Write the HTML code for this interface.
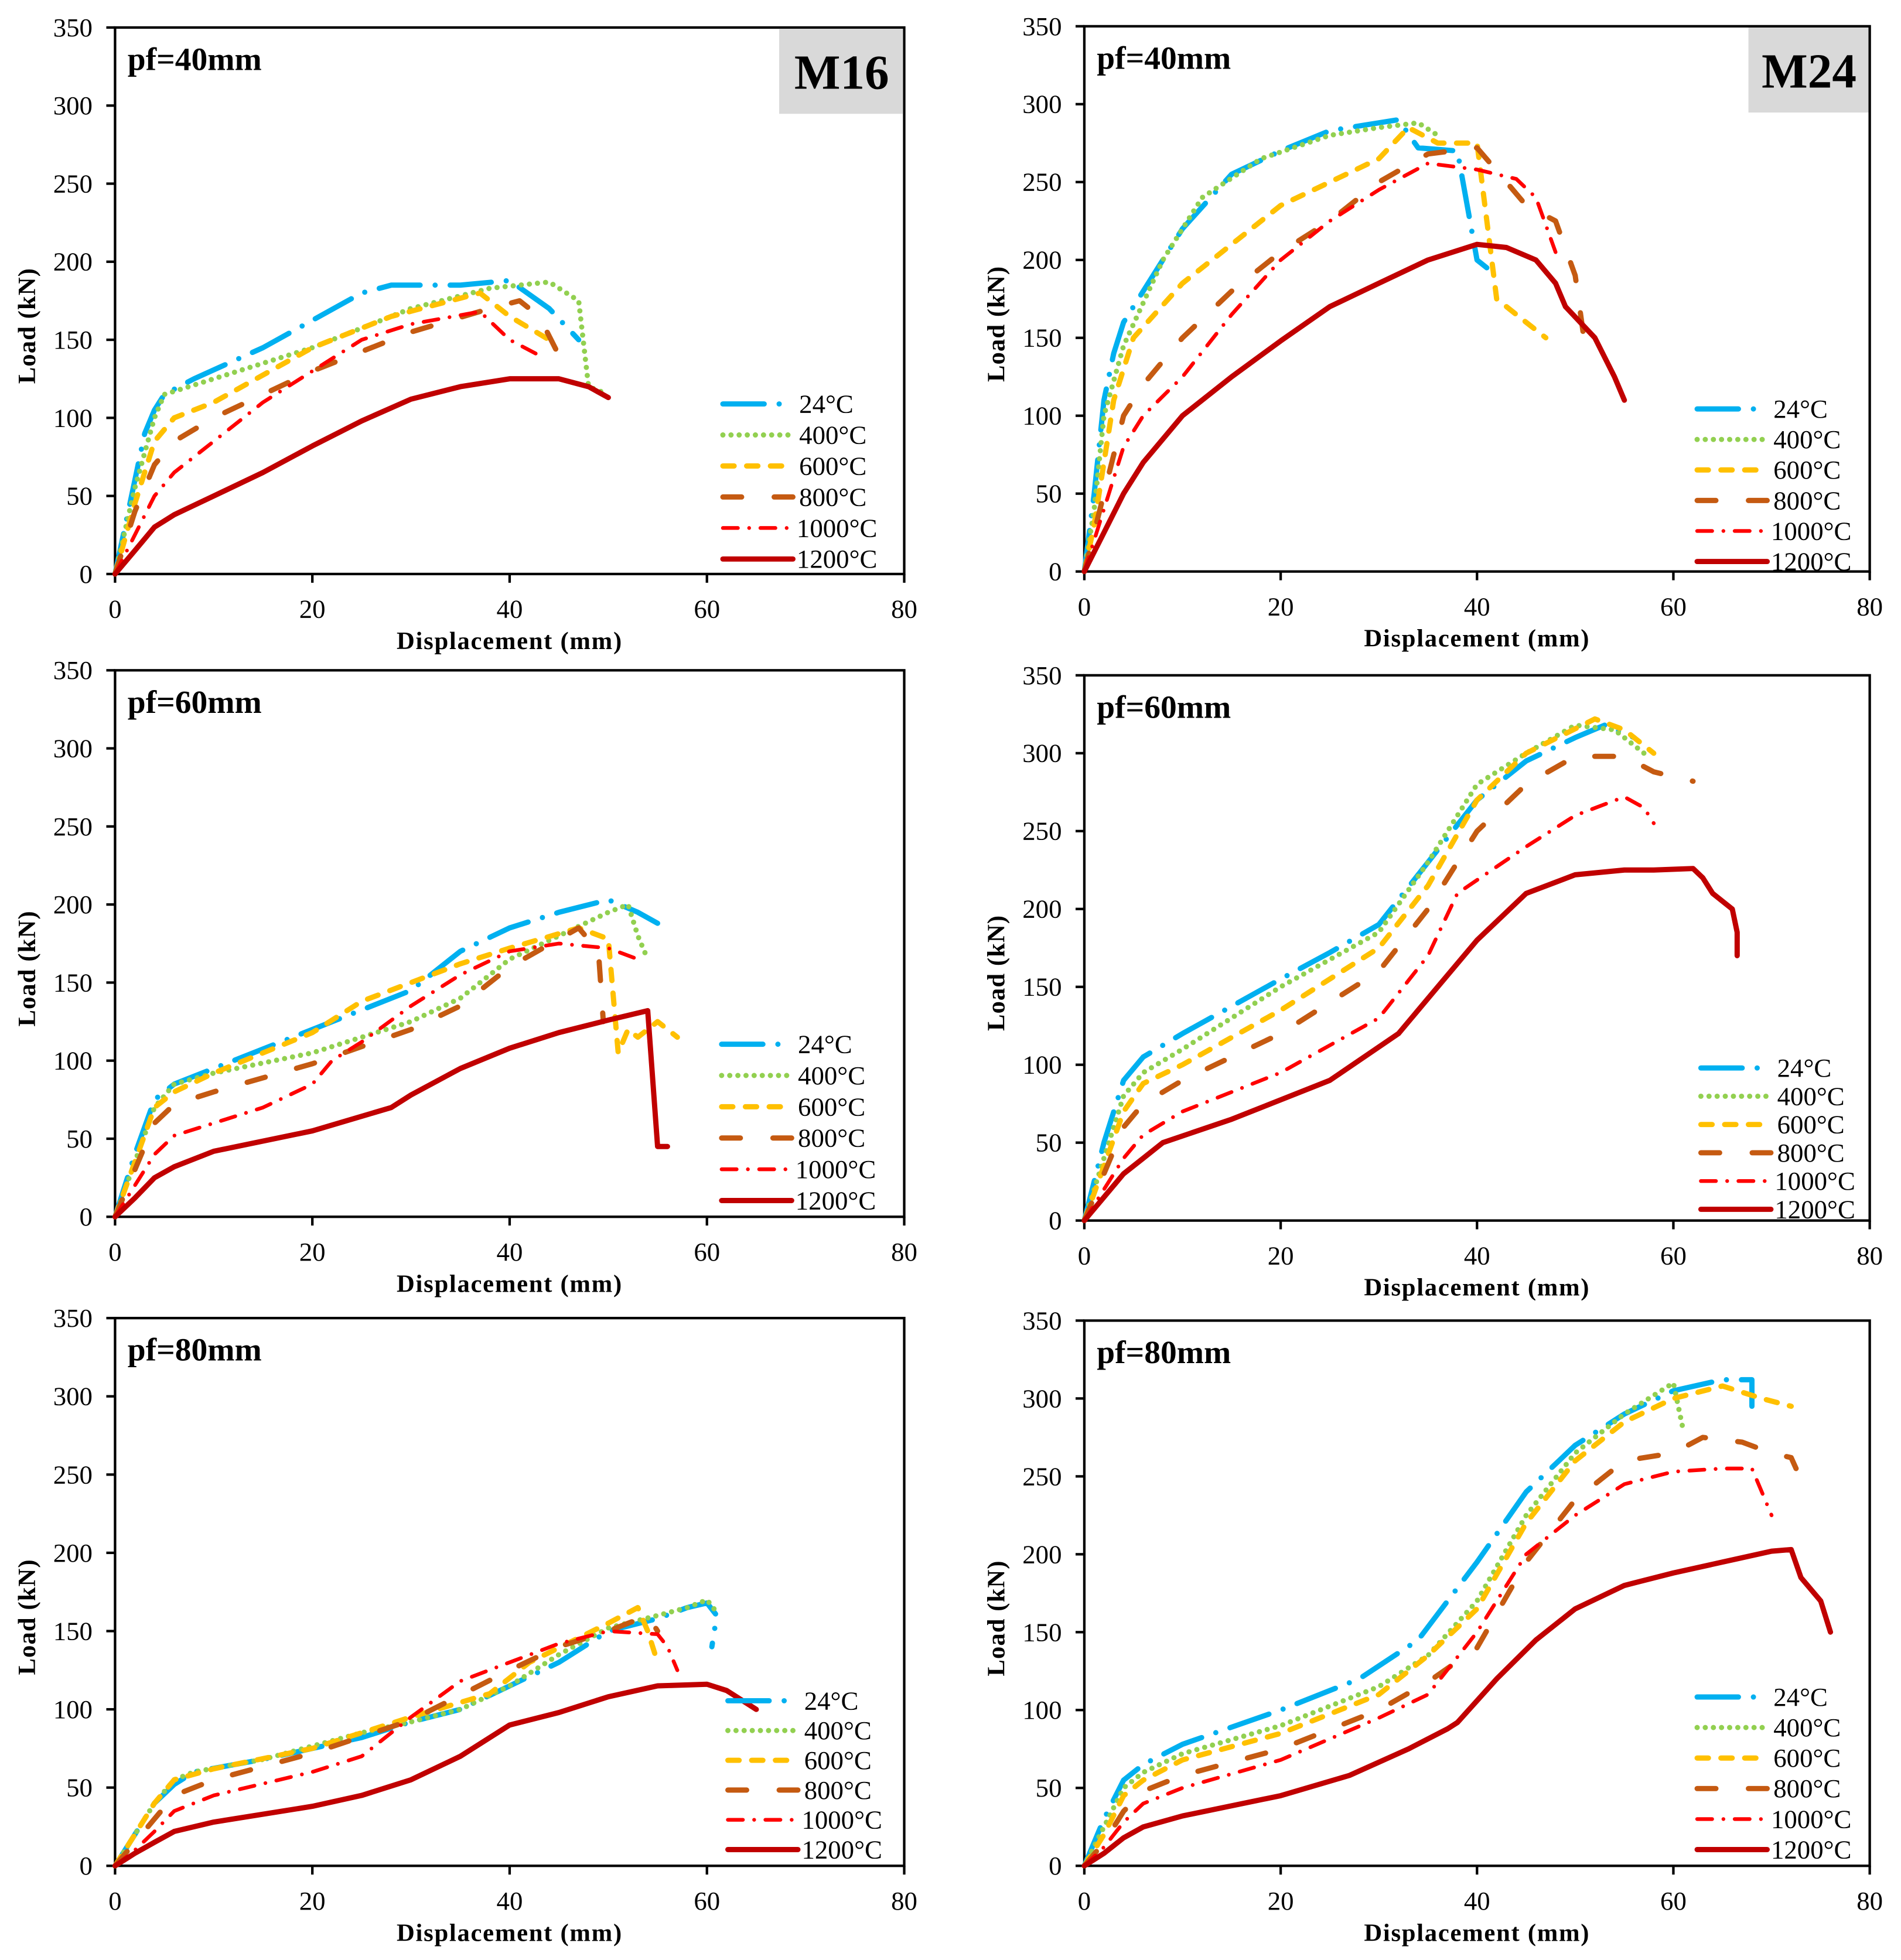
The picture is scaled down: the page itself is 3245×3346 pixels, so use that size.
<!DOCTYPE html>
<html><head><meta charset="utf-8"><style>
html,body{margin:0;padding:0;background:#fff;}
svg{display:block;}
text{font-family:"Liberation Serif",serif;fill:#000;}
</style></head><body>
<svg id="fig" xmlns="http://www.w3.org/2000/svg" width="3245" height="3346" viewBox="0 0 1520 1567.3"></svg>
<script>
// ---------- data (displacement mm, load kN) ----------
const tempLabels = ["24°C","400°C","600°C","800°C","1000°C","1200°C"];
const xTicks = [0,20,40,60,80];
const yTicks = [0,50,100,150,200,250,300,350];
const panelTitles = ["pf=40mm","pf=40mm","pf=60mm","pf=60mm","pf=80mm","pf=80mm"];

// Panel A: M16 pf=40
const a24=[[0,0],[2,60],[3,90],[4,105],[5,115],[8,125],[15,145],[25,180],[28,185],[35,185],[40,188],[44,170],[47,150]];
const a400=[[0,0],[2,55],[4,100],[5,115],[10,125],[20,145],[30,170],[38,183],[44,187],[47,175],[48,120],[50,115]];
const a600=[[0,0],[2,45],[4,85],[6,100],[10,110],[20,145],[28,165],[37,180],[40,165],[44,150]];
const a800=[[0,0],[2,40],[4,70],[6,85],[10,100],[20,130],[30,155],[38,170],[41,175],[43,165],[45,140],[46,130]];
const a1000=[[0,0],[2,25],[4,50],[6,65],[10,85],[15,110],[20,130],[25,150],[30,160],[37,168],[40,150],[43,140]];
const a1200=[[0,0],[2,15],[4,30],[6,38],[10,50],[15,65],[20,82],[25,98],[30,112],[35,120],[40,125],[45,125],[48,120],[50,113]];
// Panel B: M24 pf=40
const b24=[[0,0],[1,50],[2,110],[3,140],[4,160],[7,190],[10,220],[15,255],[20,270],[25,283],[32,290],[34,272],[38,270],[40,200],[41,195]];
const b400=[[0,0],[1,40],[2,100],[4,145],[8,200],[12,240],[18,265],[25,280],[30,285],[34,288],[36,280]];
const b600=[[0,0],[1,30],[3,110],[5,150],[10,185],[15,210],[20,235],[25,250],[30,265],[33,285],[36,275],[40,275],[42,175],[44,165],[46,155],[47,150]];
const b800=[[0,0],[2,50],[4,100],[6,120],[10,150],[15,180],[20,205],[25,225],[30,250],[35,268],[40,272],[43,250],[45,235],[48,225],[50,190],[51,145]];
const b1000=[[0,0],[2,40],[4,80],[6,100],[10,125],[15,165],[20,200],[25,225],[30,245],[35,262],[40,258],[44,252],[46,240],[48,205]];
const b1200=[[0,0],[2,25],[4,50],[6,70],[10,100],[15,125],[20,148],[25,170],[30,185],[35,200],[40,210],[43,208],[46,200],[48,185],[49,170],[52,150],[54,125],[55,110]];
// Panel C: M16 pf=60
const c24=[[0,0],[2,40],[4,75],[6,85],[10,95],[20,120],[30,145],[35,170],[40,185],[45,195],[50,203],[53,195],[55,188]];
const c400=[[0,0],[2,35],[4,70],[6,85],[10,92],[20,105],[30,125],[35,140],[40,165],[45,180],[50,195],[52,200],[53,180],[54,165]];
const c600=[[0,0],[2,35],[4,70],[6,80],[10,92],[20,118],[25,138],[35,162],[40,172],[47,185],[50,178],[51,105],[52,120],[53,115],[55,125],[57,115]];
const c800=[[0,0],[2,30],[4,60],[6,72],[10,80],[20,98],[30,120],[35,135],[40,160],[47,185],[49,170],[49.5,125]];
const c1000=[[0,0],[2,20],[4,40],[6,52],[10,60],[15,70],[20,85],[22,100],[25,112],[30,135],[35,155],[40,170],[45,175],[50,172],[53,165]];
const c1200=[[0,0],[2,12],[4,25],[6,32],[10,42],[20,55],[28,70],[30,78],[35,95],[40,108],[45,118],[50,126],[54,132],[55,45],[56,45]];
// Panel D: M24 pf=60
const d24=[[0,0],[2,50],[4,90],[6,105],[10,120],[20,155],[25,172],[30,190],[35,230],[40,270],[45,295],[50,310],[53,318],[56,310]];
const d400=[[0,0],[2,40],[4,80],[6,95],[10,110],[20,150],[30,185],[35,230],[40,280],[45,300],[50,318],[54,315],[57,300]];
const d600=[[0,0],[2,35],[4,70],[6,88],[10,100],[20,135],[30,175],[35,215],[40,270],[45,300],[52,322],[55,315],[58,300]];
const d800=[[0,0],[2,30],[4,60],[6,75],[10,90],[20,120],[30,160],[35,200],[40,250],[45,280],[50,298],[55,298],[58,288],[60,285],[62,282]];
const d1000=[[0,0],[2,20],[4,40],[6,55],[10,70],[20,95],[30,130],[35,170],[38,210],[45,240],[50,260],[55,272],[57,265],[58,255]];
const d1200=[[0,0],[2,15],[4,30],[6,40],[8,50],[15,65],[25,90],[32,120],[36,150],[40,180],[45,210],[50,222],[55,225],[58,225],[62,226],[63,220],[64,210],[66,200],[66.5,185],[66.5,170]];
// Panel E: M16 pf=80
const e24=[[0,0],[2,20],[4,40],[6,52],[8,60],[15,68],[25,82],[30,92],[35,100],[40,115],[45,130],[50,150],[55,158],[58,165],[60,168],[61,160],[60.5,140]];
const e400=[[0,0],[2,20],[4,40],[6,55],[8,60],[15,68],[25,85],[30,92],[35,100],[40,115],[45,135],[50,152],[55,160],[58,165],[60,170],[61,162]];
const e600=[[0,0],[2,20],[4,40],[6,55],[10,62],[20,75],[30,95],[38,110],[42,130],[50,155],[53,165],[54,150],[55,130]];
const e800=[[0,0],[2,15],[4,30],[6,45],[10,55],[20,72],[30,93],[40,125],[45,140],[50,150],[54,160],[55,150]];
const e1000=[[0,0],[2,10],[4,22],[6,35],[10,45],[20,60],[25,70],[30,95],[35,118],[40,130],[45,142],[50,150],[55,148],[56,140],[57,125]];
const e1200=[[0,0],[2,8],[4,15],[6,22],[10,28],[20,38],[25,45],[30,55],[35,70],[40,90],[45,98],[50,108],[55,115],[60,116],[62,112],[65,100]];
// Panel F: M24 pf=80
const f24=[[0,0],[2,30],[4,55],[6,65],[10,78],[20,100],[28,120],[34,145],[40,195],[45,240],[50,270],[55,290],[60,305],[65,312],[68,312],[68,295]];
const f400=[[0,0],[2,25],[4,50],[6,60],[10,72],[20,90],[30,115],[35,135],[40,170],[45,225],[50,265],[55,290],[60,310],[61,280]];
const f600=[[0,0],[2,20],[4,45],[6,55],[10,68],[20,85],[30,110],[35,135],[40,165],[45,220],[50,260],[55,285],[60,300],[65,308],[69,300],[72,295]];
const f800=[[0,0],[2,15],[4,35],[6,48],[10,58],[20,75],[30,100],[35,118],[40,140],[45,195],[50,235],[55,260],[60,265],[63,275],[67,272],[70,265],[72,262],[72.5,255]];
const f1000=[[0,0],[2,12],[4,28],[6,40],[10,50],[20,68],[30,95],[35,110],[40,150],[45,200],[50,225],[55,245],[60,253],[65,255],[68,255],[69,240],[70,225]];
const f1200=[[0,0],[2,8],[4,18],[6,25],[10,32],[20,45],[27,58],[33,75],[37,88],[38,92],[42,120],[46,145],[50,165],[55,180],[60,188],[65,195],[70,202],[72,203],[73,185],[75,170],[76,150]];

const panelSeries=[[a24,a400,a600,a800,a1000,a1200],[b24,b400,b600,b800,b1000,b1200],[c24,c400,c600,c800,c1000,c1200],[d24,d400,d600,d800,d1000,d1200],[e24,e400,e600,e800,e1000,e1200],[f24,f400,f600,f800,f1000,f1200]];

// ---------- styling / layout ----------
const styles=[
 {c:"#00B0F0",w:4.2,d:"33,12,0,12"},
 {c:"#92D050",w:4.2,d:"0,6.5"},
 {c:"#FFC000",w:4.2,d:"9,10"},
 {c:"#C55A11",w:4.2,d:"15,26"},
 {c:"#FF0000",w:3,d:"12,9,0,9"},
 {c:"#C00000",w:4.2,d:""}];
const frames=[
 {x0:92,x1:723,y0:459,y1:22,leg:{x:578,y:323,dy:24.8},tag:"M16"},
 {x0:867,x1:1495,y0:457,y1:21,leg:{x:1357,y:327,dy:24.4},tag:"M24"},
 {x0:92,x1:723,y0:973,y1:536,leg:{x:577,y:835,dy:25}},
 {x0:867,x1:1495,y0:976,y1:540,leg:{x:1360,y:854,dy:22.6}},
 {x0:92,x1:723,y0:1492,y1:1054,leg:{x:582,y:1360,dy:23.8}},
 {x0:867,x1:1495,y0:1492,y1:1056,leg:{x:1357,y:1357,dy:24.4}}];

const NS="http://www.w3.org/2000/svg";
const svg=document.getElementById('fig');
function mk(tag,attrs,parent){const e=document.createElementNS(NS,tag);for(const k in attrs)e.setAttribute(k,attrs[k]);parent.appendChild(e);return e;}

frames.forEach((f,pi)=>{
  const g=mk('g',{},svg);
  
  
  const sx=v=>f.x0+(v/80)*(f.x1-f.x0);
  const sy=v=>f.y0-(v/350)*(f.y0-f.y1);
  const fr=mk('rect',{x:f.x0,y:f.y1,width:f.x1-f.x0,height:f.y0-f.y1,fill:'none',stroke:'#000','stroke-width':2},g);
  
  
  yTicks.forEach(t=>{
    const y=sy(t);
    const tl=mk('line',{x1:f.x0-7,x2:f.x0,y1:y,y2:y,stroke:'#000','stroke-width':2},g);
    
    
    const tx=mk('text',{x:f.x0-18,y:y+7,'text-anchor':'end','font-size':21},g);
    tx.textContent=t;
    
    
  });
  xTicks.forEach(t=>{
    const x=sx(t);
    const tl=mk('line',{x1:x,x2:x,y1:f.y0,y2:f.y0+7,stroke:'#000','stroke-width':2},g);
    
    
    const tx=mk('text',{x:x,y:f.y0+35,'text-anchor':'middle','font-size':21},g);
    tx.textContent=t;
    
    
  });
  const xt=mk('text',{x:(f.x0+f.x1)/2,y:f.y0+60,'text-anchor':'middle','font-size':20,'font-weight':'bold','letter-spacing':'0.8'},g);
  xt.textContent='Displacement (mm)';
  
  
  const ycx=f.x0-64, ycy=(f.y0+f.y1)/2+20;
  const yt=mk('text',{x:ycx,y:ycy,'text-anchor':'middle','font-size':20,'font-weight':'bold','letter-spacing':'0.5',transform:`rotate(-90 ${ycx} ${ycy})`},g);
  yt.textContent='Load (kN)';
  
  
  const pt=mk('text',{x:f.x0+10,y:f.y1+34,'font-size':26,'font-weight':'bold'},g);
  pt.textContent=panelTitles[pi];
  
  
  if(f.tag){
    const bw=f.tag==="M16"?100:97;
    const br=mk('rect',{x:f.x1-bw,y:f.y1+1,width:bw-1,height:68,fill:'#D9D9D9'},g);
    
    
    const bt=mk('text',{x:f.x1-bw/2,y:f.y1+49,'text-anchor':'middle','font-size':39,'font-weight':'bold'},g);
    bt.textContent=f.tag;
    
    
  }
  panelSeries[pi].forEach((pts,si)=>{
    const s=styles[si];
    const d=pts.map((p,i)=>(i?'L':'M')+sx(p[0]).toFixed(1)+','+sy(p[1]).toFixed(1)).join(' ');
    const a={d:d,fill:'none',stroke:s.c,'stroke-width':s.w,'stroke-linecap':'round','stroke-linejoin':'round'};
    if(s.d)a['stroke-dasharray']=s.d;
    const p=mk('path',a,g);
    
    
  });
  tempLabels.forEach((lab,si)=>{
    const s=styles[si];
    const y=f.leg.y+si*f.leg.dy;
    const a={x1:f.leg.x,x2:f.leg.x+56,y1:y,y2:y,stroke:s.c,'stroke-width':s.w,'stroke-linecap':'round'};
    if(s.d)a['stroke-dasharray']=s.d;
    const ll=mk('line',a,g);
    
    
    const lt=mk('text',{x:f.leg.x+(si>=4?59:61),y:y+7,'font-size':21},g);
    lt.textContent=lab;
    
    
  });
});
</script>
</body></html>
